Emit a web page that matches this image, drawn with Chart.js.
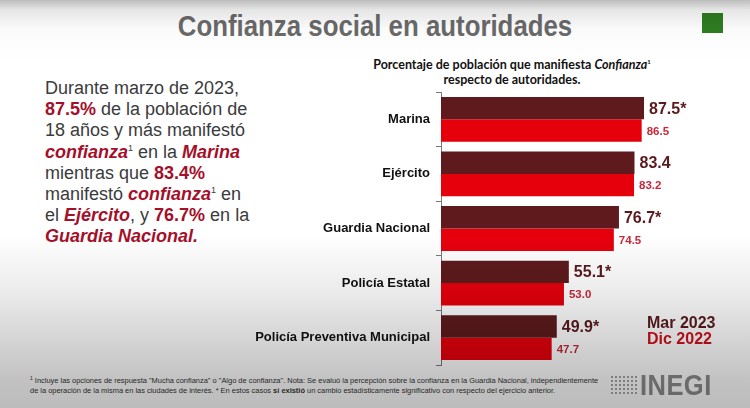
<!DOCTYPE html>
<html>
<head>
<meta charset="utf-8">
<script src="https://cdn.jsdelivr.net/npm/chart.js@4"></script>
<style>
  html, body { margin: 0; padding: 0; }
  body {
    width: 750px; height: 408px; overflow: hidden; position: relative;
    background: #fff; font-family: "Liberation Sans", Arial, sans-serif;
  }
  .title {
    position: absolute; left: 0; width: 750px; top: 10px; text-align: center;
    font-size: 29px; font-weight: bold; color: #6a6a6a;
    transform: scaleX(0.89); transform-origin: 375px 0;
  }
  .square { position: absolute; left: 702px; top: 13px; width: 21px; height: 20px; background: #2f7d22; }
  .lead {
    position: absolute; left: 45px; top: 78px; font-size: 18px; line-height: 21.2px; color: #3b3b3b;
  }
  .lead .r { color: #a50f2a; font-weight: bold; }
  .lead .ri { color: #a50f2a; font-weight: bold; font-style: italic; }
  .lead sup { font-size: 9px; vertical-align: 7px; line-height: 0; }
  .subt {
    position: absolute; left: 362px; width: 300px; top: 57px; text-align: center;
    font-family: Lato, sans-serif; font-weight: bold; font-size: 12.5px; line-height: 15px; color: #111;
  }
  .subt sup { font-size: 6px; vertical-align: 5px; line-height: 0; }
  #chartBox { position: absolute; left: 240px; top: 85px; width: 510px; height: 287px; }
  .foot {
    position: absolute; left: 30px; top: 374px; font-size: 7.45px; line-height: 9.5px; color: #333;
  }
  .logo { position: absolute; left: 610px; top: 372px; width: 105px; height: 25px; }
  .logo .dots {
    position: absolute; left: 0; top: 3px; width: 28px; height: 20px;
    background-image: radial-gradient(circle, #8e8e8e 1.1px, transparent 1.4px);
    background-size: 4px 4px; opacity: 0.8;
  }
  .logo .txt {
    position: absolute; left: 30px; top: -3px; font-size: 29px; font-weight: bold; color: #8c8c8c;
    transform: scaleX(0.88); transform-origin: 0 0; letter-spacing: 0.5px;
  }
  .shade {
    position: absolute; left: 0; top: 0; width: 750px; height: 408px; pointer-events: none;
    mix-blend-mode: multiply;
    background: linear-gradient(to bottom, #bdbdbd 0px, #e6e6e6 10px, #fbfbfb 30px, #ffffff 60px,
      #ffffff 235px, #ececec 290px, #d2d2d2 345px, #c2c2c2 380px, #bcbcbc 408px);
  }
</style>
</head>
<body>
<div class="title">Confianza social en autoridades</div>
<div class="square"></div>

<div class="lead">
  Durante marzo de 2023,<br>
  <span class="r">87.5%</span> de la población de<br>
  18 años y más manifestó<br>
  <span class="ri">confianza</span><sup>1</sup> en la <span class="ri">Marina</span><br>
  mientras que <span class="r">83.4%</span><br>
  manifestó <span class="ri">confianza</span><sup>1</sup> en<br>
  el <span class="ri">Ejército</span>, y <span class="r">76.7%</span> en la<br>
  <span class="ri">Guardia Nacional.</span>
</div>

<div class="subt">Porcentaje de población que manifiesta <i>Confianza</i><sup>1</sup><br>respecto de autoridades.</div>

<div id="chartBox"><canvas id="authChart" width="510" height="287"></canvas></div>

<div class="foot">
  <sup style="font-size:5px">1</sup> Incluye las opciones de respuesta "Mucha confianza" o "Algo de confianza". Nota: Se evaluó la percepción sobre la confianza en la Guardia Nacional, independientemente<br>
  de la operación de la misma en las ciudades de interés. * En estos casos <b>sí existió</b> un cambio estadísticamente significativo con respecto del ejercicio anterior.
</div>

<div class="logo"><div class="dots"></div><div class="txt">INEGI</div></div>

<div class="shade"></div>

<script>
// ==========================================
// DATA
// ==========================================

const categories = [
  "Marina",
  "Ejército",
  "Guardia Nacional",
  "Policía Estatal",
  "Policía Preventiva Municipal",
];
const seriesLabels = ["Mar 2023", "Dic 2022"];
const mar2023Values = [87.5, 83.4, 76.7, 55.1, 49.9];
const dic2022Values = [86.5, 83.2, 74.5, 53.0, 47.7];
// significant change vs. previous round (marked with *)
const mar2023Significant = [true, false, true, true, true];

const darkColor = "#5e1a1c";
const redColor = "#e6000c";

// ==========================================
// PLUGINS
// ==========================================

const valueLabels = {
  id: "valueLabels",
  afterDatasetsDraw(chart) {
    const ctx = chart.ctx;
    ctx.save();
    ctx.textAlign = "left";
    ctx.textBaseline = "middle";

    chart.getDatasetMeta(0).data.forEach((bar, i) => {
      ctx.font = "bold 16px 'Liberation Sans', Arial, sans-serif";
      ctx.fillStyle = "#5a1a1e";
      const txt = mar2023Values[i].toFixed(1) + (mar2023Significant[i] ? "*" : "");
      ctx.fillText(txt, bar.x + 5, bar.y + 1);
    });

    chart.getDatasetMeta(1).data.forEach((bar, i) => {
      ctx.font = "bold 11.5px 'Liberation Sans', Arial, sans-serif";
      ctx.fillStyle = "#c8283a";
      ctx.fillText(dic2022Values[i].toFixed(1), bar.x + 5, bar.y + 1);
    });

    ctx.restore();
  },
};

const textLegend = {
  id: "textLegend",
  afterDraw(chart) {
    const ctx = chart.ctx;
    const area = chart.chartArea;
    ctx.save();
    ctx.font = "bold 16px 'Liberation Sans', Arial, sans-serif";
    ctx.textAlign = "left";
    ctx.textBaseline = "middle";
    chart.data.datasets.forEach((ds, i) => {
      ctx.fillStyle = i === 0 ? "#5a1a1e" : "#d0101c";
      ctx.fillText(ds.label, area.right - 26, area.bottom - 41 + i * 16);
    });
    ctx.restore();
  },
};

// ==========================================
// CHART
// ==========================================

function initChart() {
  const ctx = document.getElementById("authChart");

  new Chart(ctx.getContext("2d"), {
    type: "bar",
    data: {
      labels: categories,
      datasets: [
        {
          label: seriesLabels[0],
          data: mar2023Values,
          backgroundColor: darkColor,
          barPercentage: 1,
          categoryPercentage: 0.82,
        },
        {
          label: seriesLabels[1],
          data: dic2022Values,
          backgroundColor: redColor,
          barPercentage: 1,
          categoryPercentage: 0.82,
        },
      ],
    },
    options: {
      indexAxis: "y",
      responsive: false,
      animation: false,
      devicePixelRatio: 1,
      layout: { padding: { top: 7, bottom: 7, right: 77, left: 0 } },
      plugins: {
        legend: { display: false },
        tooltip: { enabled: false },
      },
      scales: {
        x: { min: 0, max: 100, display: false },
        y: {
          afterFit(scale) {
            scale.width = 201;
            // labels sit inside their categories, no extra room needed above/below
            scale.paddingTop = 0;
            scale.paddingBottom = 0;
          },
          grid: {
            drawOnChartArea: false,
            tickLength: 5,
            color: "#7a7a7a",
            offset: true,
          },
          border: { color: "#7a7a7a", width: 1 },
          ticks: {
            color: "#111",
            padding: 6,
            font: { family: "'Liberation Sans', Arial, sans-serif", weight: "bold", size: 13 },
          },
        },
      },
    },
    plugins: [valueLabels, textLegend],
  });
}

initChart();
</script>
</body>
</html>
